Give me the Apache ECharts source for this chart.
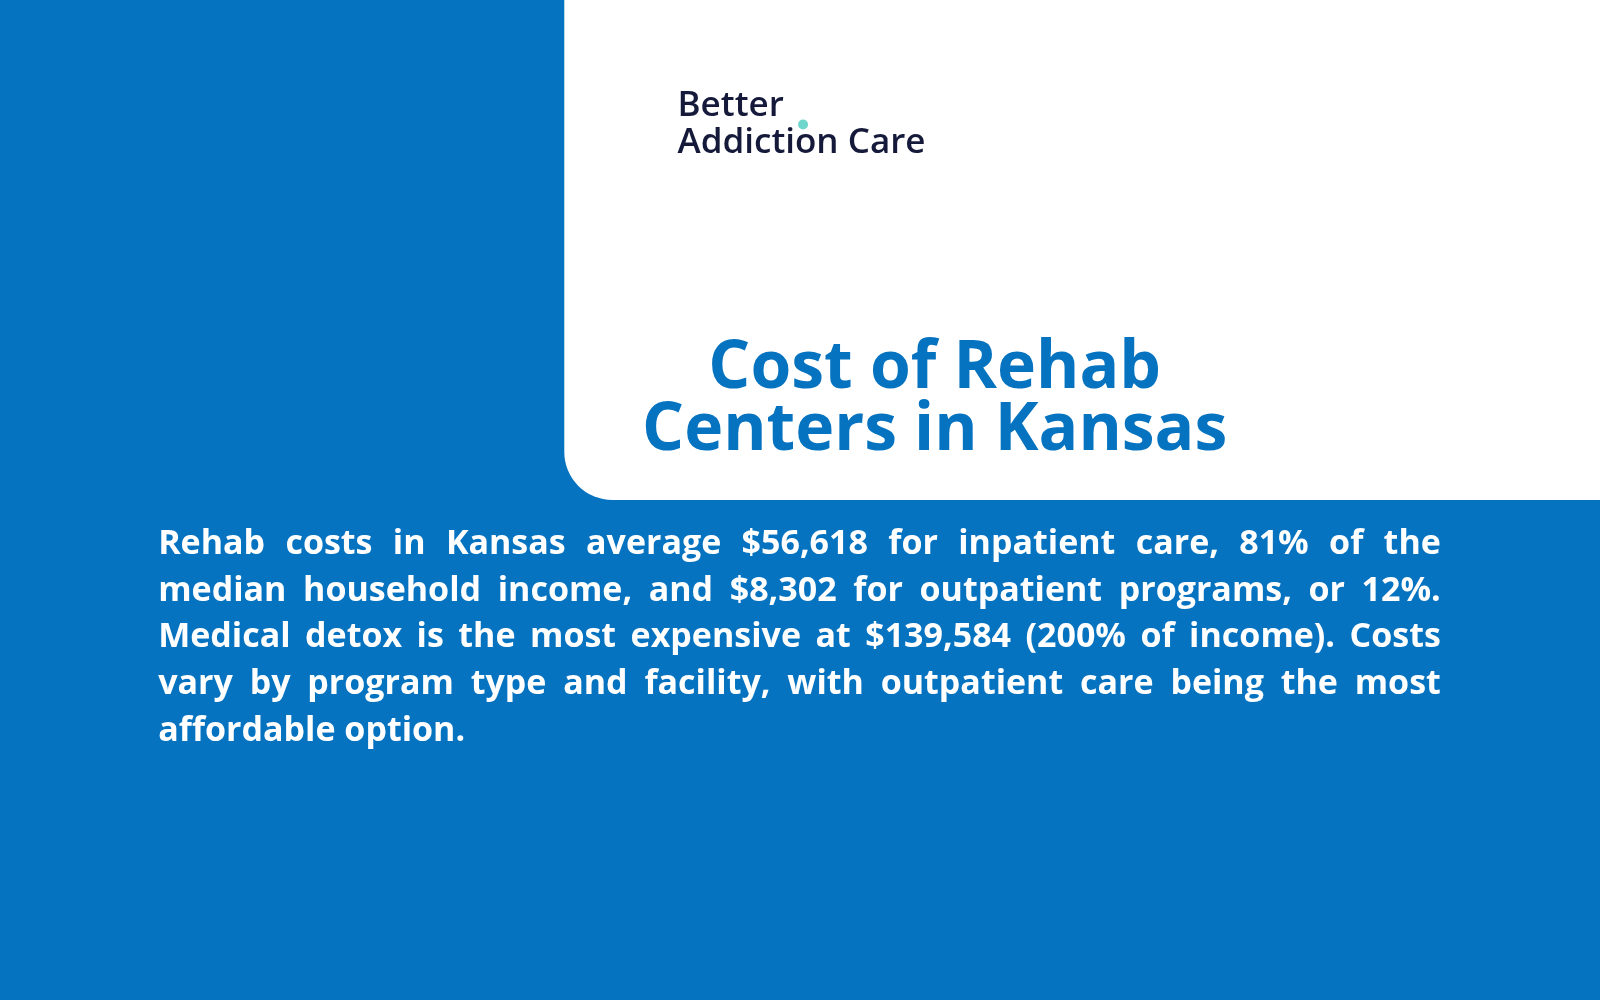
<!DOCTYPE html>
<html><head><meta charset="utf-8">
<script src="https://cdn.jsdelivr.net/npm/echarts@6/dist/echarts.min.js"></script>
<style>html,body{margin:0;padding:0;background:#0673C1}#c{width:1600px;height:1000px}</style>
</head><body><div id="c"></div>
<script>
const titleLines = ["Cost of Rehab", "Centers in Kansas"];
const logoLines = ["Better", "Addiction Care"];
const inpatientCost = "$56,618", inpatientPct = "81%";
const outpatientCost = "$8,302", outpatientPct = "12%";
const detoxCost = "$139,584", detoxPct = "200%";
const paraLines = [
  `Rehab costs in Kansas average ${inpatientCost} for inpatient care, ${inpatientPct} of the`,
  `median household income, and ${outpatientCost} for outpatient programs, or ${outpatientPct}.`,
  `Medical detox is the most expensive at ${detoxCost} (${detoxPct} of income). Costs`,
  `vary by program type and facility, with outpatient care being the most`,
  `affordable option.`
];
const S = 1600/1568;
const font = 'bold 34px "Open Sans"';
const ctx = document.createElement('canvas').getContext('2d');
ctx.font = font;
const els = [
  {type:'rect', shape:{x:553*S, y:-60, width:1200, height:(490*S)+60, r:[0,0,0,48]}, style:{fill:'#ffffff'}},
  {type:'text', style:{x:664*S, y:104*S, text:logoLines[0], font:'600 35px "Open Sans"', fill:'#161a3a', verticalAlign:'middle'}},
  {type:'text', style:{x:664*S, y:140*S, text:logoLines[1], font:'600 35px "Open Sans"', fill:'#161a3a', verticalAlign:'middle'}},
  {type:'circle', shape:{cx:787*S, cy:122*S, r:5}, style:{fill:'#6fd6cc'}},
  {type:'text', style:{x:916*S, y:362*S, text:titleLines[0], font:'bold 66px "Open Sans"', fill:'#0673C1', align:'center', verticalAlign:'middle'}},
  {type:'text', style:{x:916*S, y:423*S, text:titleLines[1], font:'bold 66px "Open Sans"', fill:'#0673C1', align:'center', verticalAlign:'middle'}}
];
const x0 = 155*S, x1 = 1412*S;
paraLines.forEach((line, i) => {
  const y = (533 + 46*i)*S;
  const words = line.split(' ');
  const last = i === paraLines.length - 1;
  const wsum = words.reduce((a,w)=>a+ctx.measureText(w).width, 0);
  const gap = last ? ctx.measureText(' ').width : (x1 - x0 - wsum)/(words.length-1);
  let x = x0;
  words.forEach(w => {
    els.push({type:'text', style:{x:x, y:y, text:w, font:font, fill:'#ffffff', verticalAlign:'middle'}});
    x += ctx.measureText(w).width + gap;
  });
});
const chart = echarts.init(document.getElementById('c'));
chart.setOption({backgroundColor:'#0673C1', graphic:{elements:els}});
</script></body></html>
